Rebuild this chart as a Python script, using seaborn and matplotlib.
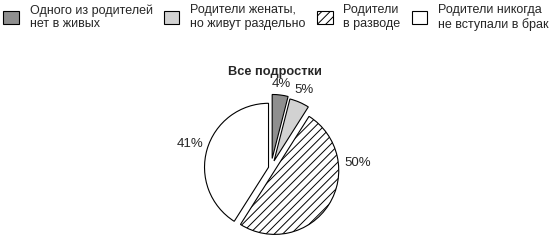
import matplotlib
matplotlib.use("Agg")
import matplotlib.pyplot as plt
import seaborn as sns
import numpy as np
from matplotlib.patches import Patch

sns.set_style("white")
plt.rcParams['font.family'] = ['Liberation Sans', 'DejaVu Sans']
plt.rcParams['hatch.linewidth'] = 0.7

categories = ["Одного из родителей\nнет в живых",
              "Родители женаты,\nно живут раздельно",
              "Родители\nв разводе",
              "Родители никогда\nне вступали в брак"]
values = [4, 5, 50, 41]
labels = ["4%", "5%", "50%", "41%"]
colors = ["#8f8f8f", "#d2d2d2", "white", "white"]
hatches = [None, None, "////", None]
title = "Все подростки"

fig = plt.figure(figsize=(5.52, 2.41), dpi=100)
ax = fig.add_axes([0.3286, -0.0689, 0.3246, 0.7436])

explode = [0.15, 0.12, 0.07, 0.04]
wedges, texts = ax.pie(values, colors=colors, startangle=90, counterclock=False,
                       explode=explode, labels=labels,
                       labeldistance=1.18,
                       wedgeprops=dict(edgecolor="black", linewidth=0.8),
                       textprops=dict(fontsize=9.5, ha="center", va="center"))
for w, h in zip(wedges, hatches):
    if h:
        w.set_hatch(h)

# label placement along each wedge's bisector
label_dist = [1.17, 1.2, None, 1.28]
for w, t, d, e in zip(wedges, texts, label_dist, explode):
    ang = np.deg2rad((w.theta1 + w.theta2) / 2)
    if d is None:
        t.set_position((1.36, 0.08))
    else:
        t.set_position(((e + d) * np.cos(ang), (e + d) * np.sin(ang)))
    t.set_ha("center")
    t.set_va("center")

ax.set_xlim(-1.4, 1.4)
ax.set_ylim(-1.4, 1.4)
ax.set_aspect("equal")
ax.axis("off")

fig.text(275/552, 1 - 72/241, title, ha="center", va="center",
         fontsize=9.2, fontweight="bold")

handles = [Patch(facecolor=c, edgecolor="black", linewidth=0.8, hatch=h)
           for c, h in zip(colors, hatches)]
leg = fig.legend(handles, categories, loc="upper left", bbox_to_anchor=(-0.008, 1.015),
                 ncol=4, frameon=False, fontsize=9, handlelength=1.25,
                 handleheight=1.25, columnspacing=0.9, handletextpad=0.87,
                 borderaxespad=0.2, labelspacing=0.2)

fig.savefig("out.png", dpi=100)
